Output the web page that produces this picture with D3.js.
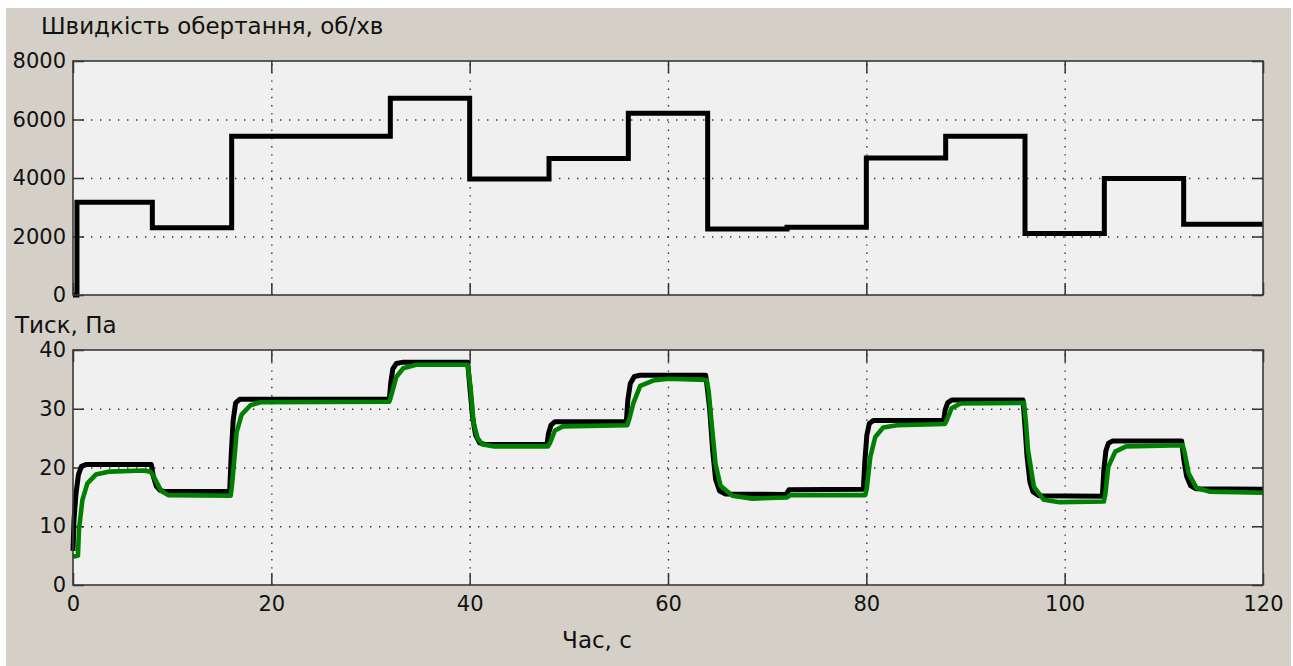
<!DOCTYPE html>
<html>
<head>
<meta charset="utf-8">
<script src="https://cdn.jsdelivr.net/npm/d3@7"></script>
<style>
  body { margin: 0; background: #fff; }
  text { font-family: "DejaVu Sans", sans-serif; fill: #111; }
</style>
</head>
<body>
<div id="chart"></div>
<script>
// speed set-point, rpm (step every 8 s)
var speedT = [0, 0.4, 8, 16, 24, 32, 40, 48, 56, 64, 72, 80, 88, 96, 104, 112, 120];
var speedV = [0, 3170, 2300, 5430, 5430, 6730, 3970, 4670, 6210, 2260, 2320, 4680, 5430, 2100, 3980, 2420, 2420];

// pressure, model (black)
var pModelT = [0, 0.1, 0.3, 0.55, 0.85, 1.3, 7.9, 8.1, 8.4, 8.8, 9.3, 15.8, 15.95, 16.15, 16.4, 16.8,
  31.9, 32.05, 32.25, 32.6, 33.2, 39.8, 40.0, 40.3, 40.6, 41.0, 41.6, 47.8, 47.95, 48.2, 48.6,
  55.8, 55.95, 56.2, 56.6, 57.2, 63.8, 64.0, 64.2, 64.5, 64.8, 65.2, 65.8, 71.9, 72.2,
  79.7, 79.85, 80.05, 80.3, 80.7, 87.8, 87.95, 88.2, 88.6, 95.8, 96.0, 96.2, 96.5, 96.8, 97.4,
  103.8, 103.95, 104.15, 104.4, 104.8, 111.8, 112.0, 112.3, 112.7, 113.2, 120];
var pModelV = [5.8, 11, 15.5, 18.8, 20.2, 20.5, 20.5, 18.5, 16.8, 16.1, 15.9, 15.9, 22, 28, 31, 31.6,
  31.6, 34.5, 36.8, 37.7, 37.9, 37.9, 34, 28.5, 25.5, 24.2, 23.9, 23.9, 25.8, 27.2, 27.8,
  27.8, 31.5, 34.3, 35.5, 35.7, 35.7, 33, 30, 23, 18, 16, 15.5, 15.4, 16.2,
  16.3, 21, 25.5, 27.5, 28.0, 28.0, 29.8, 31.0, 31.5, 31.5, 27, 22, 17.5, 15.9, 15.2,
  15.1, 19.5, 22.8, 24.1, 24.5, 24.5, 21.5, 18.5, 16.9, 16.4, 16.3];

// pressure, measured (green)
var pMeasT = [0, 0.5, 0.6, 0.95, 1.45, 2.3, 3.7, 7.1, 7.8, 8.1, 8.4, 8.9, 9.6, 15.9, 16.0, 16.2, 16.5, 17.0, 17.9, 18.9,
  31.9, 32.1, 32.6, 33.3, 34.6, 39.8, 40.1, 40.4, 40.8, 41.3, 42.5, 47.9, 48.1, 48.6, 49.4,
  55.9, 56.1, 56.5, 57.2, 58.5, 60, 63.9, 64.1, 64.4, 64.8, 65.3, 66.5, 68.5, 72.0, 72.3,
  79.9, 80.05, 80.4, 80.9, 81.7, 83.1, 87.9, 88.1, 88.6, 89.5, 95.9, 96.1, 96.3, 96.9, 97.9, 99.5,
  103.95, 104.1, 104.4, 105.1, 106.2, 111.9, 112.1, 112.5, 113.3, 114.6, 120];
var pMeasV = [4.8, 5.0, 9.4, 14.5, 17.3, 18.8, 19.3, 19.5, 19.3, 18.6, 17.6, 16.0, 15.3, 15.2, 16.5, 20.1, 26.0, 29.0, 30.6, 31.1,
  31.2, 32.3, 35.4, 36.9, 37.5, 37.5, 33.5, 27.5, 25.0, 23.9, 23.6, 23.6, 24.2, 26.3, 27.0,
  27.2, 28.3, 30.9, 33.9, 34.8, 35.1, 34.9, 33, 27.5, 20.5, 16.9, 15.2, 14.7, 14.9, 15.3,
  15.3, 16.5, 21.8, 25.2, 26.8, 27.2, 27.4, 28.0, 30.1, 30.9, 31.0, 27.5, 23.0, 16.7, 14.5, 14.1,
  14.2, 15.5, 20.1, 22.7, 23.6, 23.8, 22.5, 19.0, 16.5, 15.9, 15.7];

var xTicks = [0, 20, 40, 60, 80, 100, 120];
var speedTicks = [0, 2000, 4000, 6000, 8000];
var pressTicks = [0, 10, 20, 30, 40];

var W = 1293, H = 666;
var left = 73, right = 1263;

var svg = d3.select("#chart").append("svg")
  .attr("width", W)
  .attr("height", H);

svg.append("rect")
  .attr("x", 6).attr("y", 8)
  .attr("width", 1285).attr("height", H - 8)
  .attr("fill", "#d4d0c8");

var x = d3.scaleLinear().domain([0, 120]).range([left, right]);

function panel(top, bottom, yDomain, yTicks, showX) {
  var y = d3.scaleLinear().domain(yDomain).range([bottom, top]);
  var g = svg.append("g");

  g.append("rect")
    .attr("x", left).attr("y", top)
    .attr("width", right - left).attr("height", bottom - top)
    .attr("fill", "#f0f0f0");

  // dotted grid
  var inner = yTicks.slice(1, -1), innerX = xTicks.slice(1, -1);
  g.append("g")
    .attr("transform", "translate(" + left + ",0)")
    .call(d3.axisLeft(y).tickValues(inner).tickSize(-(right - left)).tickFormat(""))
    .call(function(s) {
      s.select(".domain").remove();
      s.selectAll("line").attr("stroke", "#333").attr("stroke-width", 1.4).attr("stroke-dasharray", "1.4,7.6");
    });
  g.append("g")
    .attr("transform", "translate(0," + bottom + ")")
    .call(d3.axisBottom(x).tickValues(innerX).tickSize(-(bottom - top)).tickFormat(""))
    .call(function(s) {
      s.select(".domain").remove();
      s.selectAll("line").attr("stroke", "#333").attr("stroke-width", 1.4).attr("stroke-dasharray", "1.4,6.8");
    });

  // inward ticks on all four sides
  var tickStyle = function(s) {
    s.select(".domain").remove();
    s.selectAll("line").attr("stroke", "#333").attr("stroke-width", 1.5);
    s.selectAll("text").remove();
  };
  g.append("g").attr("transform", "translate(" + left + ",0)")
    .call(d3.axisLeft(y).tickValues(yTicks).tickSize(-11)).call(tickStyle);
  g.append("g").attr("transform", "translate(" + right + ",0)")
    .call(d3.axisRight(y).tickValues(yTicks).tickSize(-11)).call(tickStyle);
  g.append("g").attr("transform", "translate(0," + top + ")")
    .call(d3.axisTop(x).tickValues(xTicks).tickSize(-12)).call(tickStyle);
  g.append("g").attr("transform", "translate(0," + bottom + ")")
    .call(d3.axisBottom(x).tickValues(xTicks).tickSize(-12)).call(tickStyle);

  // tick labels
  var labelStyle = function(s) {
    s.select(".domain").remove();
    s.selectAll("text").attr("font-size", 21).attr("font-family", "DejaVu Sans").attr("fill", "#1a1a1a");
  };
  g.append("g").attr("transform", "translate(" + left + ",0)")
    .call(d3.axisLeft(y).tickValues(yTicks).tickFormat(d3.format("d")).tickSize(0).tickPadding(7))
    .call(labelStyle);
  if (showX) {
    g.append("g").attr("transform", "translate(0," + bottom + ")")
      .call(d3.axisBottom(x).tickValues(xTicks).tickFormat(d3.format("d")).tickSize(0).tickPadding(11))
      .call(labelStyle);
  }
  return {g: g, y: y, top: top, bottom: bottom};
}

function frame(p) {
  p.g.append("rect")
    .attr("x", left).attr("y", p.top)
    .attr("width", right - left).attr("height", p.bottom - p.top)
    .attr("fill", "none")
    .attr("stroke", "#3a3a3a")
    .attr("stroke-width", 1.6);
}

// top panel: rotation speed
var p1 = panel(61, 295, [0, 8000], speedTicks, false);
var speedLine = d3.line()
  .x(function(d, i) { return x(speedT[i]); })
  .y(function(d) { return p1.y(d); })
  .curve(d3.curveStepAfter);
p1.g.append("path")
  .datum(speedV)
  .attr("d", speedLine)
  .attr("fill", "none")
  .attr("stroke", "#000")
  .attr("stroke-width", 5);
frame(p1);

// bottom panel: pressure
var p2 = panel(350, 585, [0, 40], pressTicks, true);
var modelLine = d3.line()
  .x(function(d, i) { return x(pModelT[i]); })
  .y(function(d) { return p2.y(d); });
var measLine = d3.line()
  .x(function(d, i) { return x(pMeasT[i]); })
  .y(function(d) { return p2.y(d); });
p2.g.append("path")
  .datum(pModelV)
  .attr("d", modelLine)
  .attr("fill", "none")
  .attr("stroke", "#000")
  .attr("stroke-width", 5)
  .attr("stroke-linejoin", "round");
p2.g.append("path")
  .datum(pMeasV)
  .attr("d", measLine)
  .attr("fill", "none")
  .attr("stroke", "#008000")
  .attr("stroke-width", 4.6)
  .attr("stroke-linejoin", "round");
frame(p2);

// titles
svg.append("text")
  .attr("x", 41).attr("y", 34)
  .attr("font-size", 23)
  .text("Швидкість обертання, об/хв");
svg.append("text")
  .attr("x", 15).attr("y", 333)
  .attr("font-size", 23)
  .text("Тиск, Па");
svg.append("text")
  .attr("x", 597).attr("y", 648)
  .attr("text-anchor", "middle")
  .attr("font-size", 23)
  .text("Час, с");
</script>
</body>
</html>
